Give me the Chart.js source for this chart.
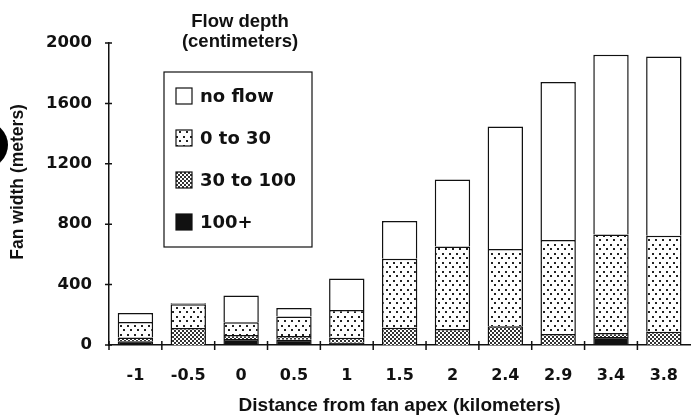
<!DOCTYPE html>
<html>
<head>
<meta charset="utf-8">
<script src="https://cdn.jsdelivr.net/npm/chart.js@4.4.1/dist/chart.umd.min.js"></script>
<style>
  html, body { margin: 0; padding: 0; background: #fff; overflow: hidden; }
  #wrap { width: 699px; height: 417px; position: relative; }
</style>
</head>
<body>
<div id="wrap"><canvas id="fanChart"></canvas></div>
<script>
// distance from fan apex (km)
const distances = ['-1', '-0.5', '0', '0.5', '1', '1.5', '2', '2.4', '2.9', '3.4', '3.8'];

// fan width (m) for each flow depth class
const depth100plus = [25, 0, 40, 35, 15, 0, 0, 0, 0, 53, 0];
const depth30to100 = [25, 113, 26, 25, 33, 115, 106, 124, 73, 27, 88];
const depth0to30   = [102, 157, 84, 128, 184, 457, 546, 512, 623, 651, 635];
const noFlow       = [60, 6, 177, 57, 208, 250, 444, 811, 1045, 1191, 1188];

const yTickValues = [0, 400, 800, 1200, 1600, 2000];

const LABEL_FONT = 'DejaVu Sans';
const TITLE_FONT = 'Liberation Sans';
const INK = '#111';

const canvas = document.getElementById('fanChart');
const ctx = canvas.getContext('2d');

// small tiles used as fill patterns
function makePattern(w, h, paint) {
    const tile = document.createElement('canvas');
    tile.width = w;
    tile.height = h;
    paint(tile.getContext('2d'));
    return ctx.createPattern(tile, 'repeat');
}

const sparseDots = makePattern(7, 9, g => {
    g.fillStyle = '#fff';
    g.fillRect(0, 0, 7, 9);
    g.fillStyle = '#222';
    g.fillRect(1, 1, 2, 2);
    g.fillRect(4, 5, 2, 2);
});

const denseDots = makePattern(4, 4, g => {
    g.fillStyle = '#fff';
    g.fillRect(0, 0, 4, 4);
    g.fillStyle = '#333';
    g.fillRect(0, 0, 2, 2);
    g.fillRect(2, 2, 2, 2);
});

const datasets = [
    { label: '100+', data: depth100plus, backgroundColor: INK },
    { label: '30 to 100', data: depth30to100, backgroundColor: denseDots },
    { label: '0 to 30', data: depth0to30, backgroundColor: sparseDots },
    { label: 'no flow', data: noFlow, backgroundColor: '#fff' }
].map(ds => ({
    ...ds,
    borderColor: INK,
    borderWidth: 1.5,
    barPercentage: 0.67,
    categoryPercentage: 1
}));

// tick marks across the axes, legend box and the cut-off panel mark
const figureExtras = {
    id: 'figureExtras',
    afterDraw(chart) {
        const { ctx, scales: { x, y } } = chart;
        ctx.save();
        ctx.strokeStyle = INK;
        ctx.lineWidth = 1.5;
        ctx.beginPath();
        yTickValues.forEach(v => {
            const py = y.getPixelForValue(v);
            ctx.moveTo(x.left - 4, py);
            ctx.lineTo(x.left + 3, py);
        });
        const step = x.getPixelForValue(1) - x.getPixelForValue(0);
        for (let i = 0; i < distances.length - 1; i++) {
            const px = x.getPixelForValue(i) + step / 2;
            ctx.moveTo(px, y.bottom - 4);
            ctx.lineTo(px, y.bottom + 5);
        }
        ctx.moveTo(x.left, y.bottom - 4);
        ctx.lineTo(x.left, y.bottom + 5);
        ctx.stroke();

        // panel letter circle, mostly cropped away
        ctx.fillStyle = '#000';
        ctx.beginPath();
        ctx.arc(-15, 145, 23, 0, Math.PI * 2);
        ctx.fill();

        // legend title
        ctx.fillStyle = INK;
        ctx.textAlign = 'center';
        ctx.textBaseline = 'middle';
        ctx.font = 'bold 18.5px "' + TITLE_FONT + '"';
        ctx.fillText('Flow depth', 240, 22);
        ctx.fillText('(centimeters)', 240, 42);

        // legend box
        ctx.lineWidth = 1.2;
        ctx.strokeRect(164, 72, 148, 175);
        ctx.textAlign = 'left';
        ctx.font = 'bold 18px "' + LABEL_FONT + '"';
        const items = chart.data.datasets.slice().reverse();
        items.forEach((ds, i) => {
            const cy = 96 + i * 42;
            ctx.fillStyle = ds.backgroundColor;
            ctx.fillRect(176, cy - 8, 16, 16);
            ctx.lineWidth = 1.2;
            ctx.strokeRect(176, cy - 8, 16, 16);
            ctx.fillStyle = INK;
            ctx.fillText(ds.label, 200, cy + 1);
        });
        ctx.restore();
    }
};

new Chart(ctx, {
    type: 'bar',
    data: {
        labels: distances,
        datasets: datasets
    },
    options: {
        responsive: true,
        maintainAspectRatio: false,
        animation: false,
        layout: {
            padding: { top: 43, left: 0, right: 0, bottom: 0 }
        },
        plugins: {
            legend: { display: false },
            tooltip: { enabled: false }
        },
        scales: {
            x: {
                stacked: true,
                afterFit: scale => { scale.height = 72; },
                grid: { display: false, drawTicks: false },
                border: { display: true, color: INK, width: 1.5 },
                ticks: {
                    color: INK,
                    padding: 21,
                    maxRotation: 0,
                    font: { family: LABEL_FONT, size: 16, weight: 'bold' }
                },
                title: {
                    display: true,
                    text: 'Distance from fan apex (kilometers)',
                    color: INK,
                    padding: { top: 0, bottom: 0 },
                    font: { family: TITLE_FONT, size: 19, weight: 'bold' }
                }
            },
            y: {
                stacked: true,
                min: 0,
                max: 2000,
                afterFit: scale => { scale.width = 109; },
                afterBuildTicks: scale => {
                    scale.ticks = yTickValues.map(v => ({ value: v }));
                },
                grid: { display: false, drawTicks: false },
                border: { display: true, color: INK, width: 1.5 },
                ticks: {
                    color: INK,
                    padding: 17,
                    callback: v => String(v),
                    font: { family: LABEL_FONT, size: 16.5, weight: 'bold' }
                },
                title: {
                    display: true,
                    text: '     Fan width (meters)',
                    color: INK,
                    padding: { top: 8, bottom: 0 },
                    font: { family: TITLE_FONT, size: 17.5, weight: 'bold' }
                }
            }
        }
    },
    plugins: [figureExtras]
});
</script>
</body>
</html>
